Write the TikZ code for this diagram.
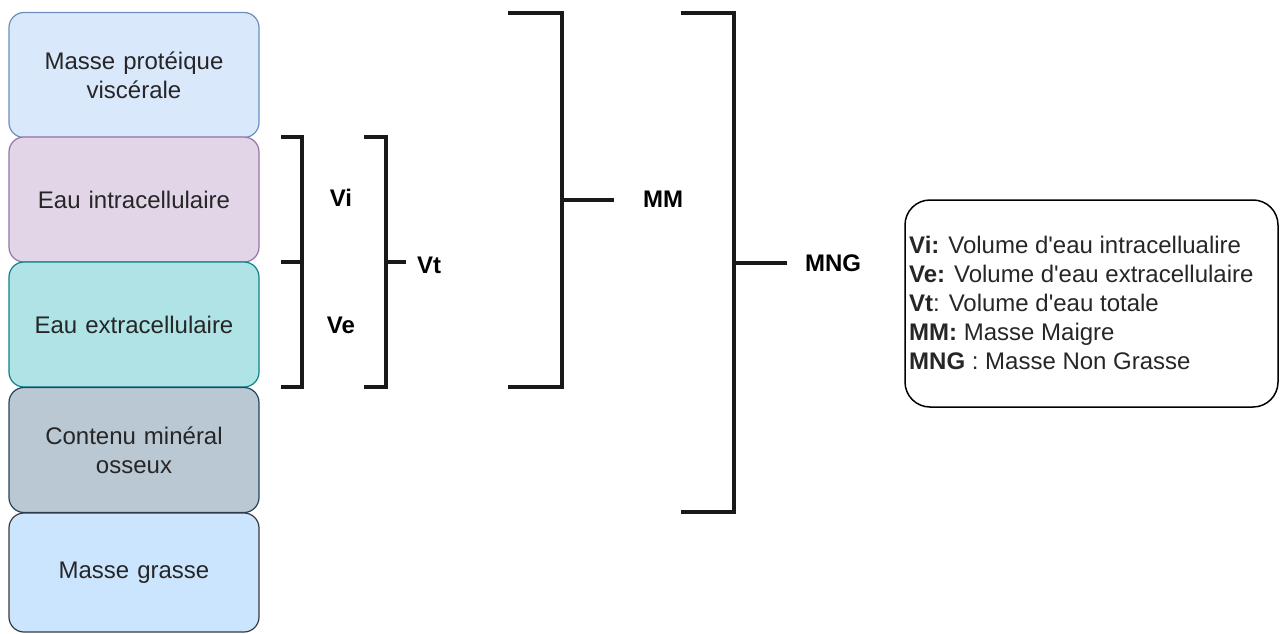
\documentclass[tikz,border=0pt]{standalone}
\usepackage{fontspec}
\setmainfont{Liberation Sans}
\usetikzlibrary{calc}
\definecolor{f1}{HTML}{DAE8FC}\definecolor{s1}{HTML}{6C8EBF}
\definecolor{f2}{HTML}{E1D5E7}\definecolor{s2}{HTML}{9673A6}
\definecolor{f3}{HTML}{B0E3E6}\definecolor{s3}{HTML}{0E8088}
\definecolor{f4}{HTML}{BAC8D3}\definecolor{s4}{HTML}{23445D}
\definecolor{f5}{HTML}{CCE5FF}\definecolor{s5}{HTML}{36393D}
\tikzset{
  layer/.style={draw, rounded corners=15pt, line width=1.2pt, minimum width=250pt, minimum height=125pt,
    text width=240pt, align=center, inner sep=0pt, font=\fontsize{24}{29}\selectfont, text=black!85},
  brk/.style={line width=3.2pt, draw=black!90},
  lbl/.style={font=\bfseries\fontsize{24}{26}\selectfont, inner sep=0pt},
}
\begin{document}
\begin{tikzpicture}[x=1pt,y=-1pt]
\useasboundingbox (0,0) rectangle (1282,634);
\node[layer, fill=f1, draw=s1] (b1) at (134,75) {Masse protéique\\viscérale};
\node[layer, fill=f2, draw=s2] (b2) at (134,199.5) {Eau intracellulaire};
\node[layer, fill=f3, draw=s3] (b3) at (134,324.5) {Eau extracellulaire};
\node[layer, fill=f4, draw=s4] (b4) at (134,450) {Contenu minéral\\osseux};
\node[layer, fill=f5, draw=s5, minimum height=119pt] (b5) at (134,572.5) {Masse grasse};
% brackets
\draw[brk] (281,137) -| (302,387) -- (281,387);
\draw[brk] (281,262) -- (302,262);
\draw[brk] (364,137) -| (386,387) -- (364,387);
\draw[brk] (386,262) -- (406,262);
\draw[brk] (508,13) -| (562,387) -- (508,387);
\draw[brk] (562,200) -- (614,200);
\draw[brk] (681,13) -| (734,512) -- (681,512);
\draw[brk] (734,263) -- (787,263);
\node[lbl] (vi) at (341,198) {Vi};
\node[lbl] (ve) at (341,325) {Ve};
\node[lbl] (vt) at (429,265) {Vt};
\node[lbl] (mm) at (663,199) {MM};
\node[lbl] (mng) at (833,263) {MNG};
% legend
\draw[line width=1.5pt, rounded corners=25pt] (905,200) rectangle (1278,407);
\node[anchor=west, align=left, inner sep=0pt, font=\fontsize{24}{29}\selectfont, text=black!85] (leg) at (909,303)
  {\textbf{Vi:} Volume d\textquotesingle eau intracellualire\\
   \textbf{Ve:} Volume d\textquotesingle eau extracellulaire\\
   \textbf{Vt}: Volume d\textquotesingle eau totale\\
   \textbf{MM:} Masse Maigre\\
   \textbf{MNG} : Masse Non Grasse};
\end{tikzpicture}
\end{document}
